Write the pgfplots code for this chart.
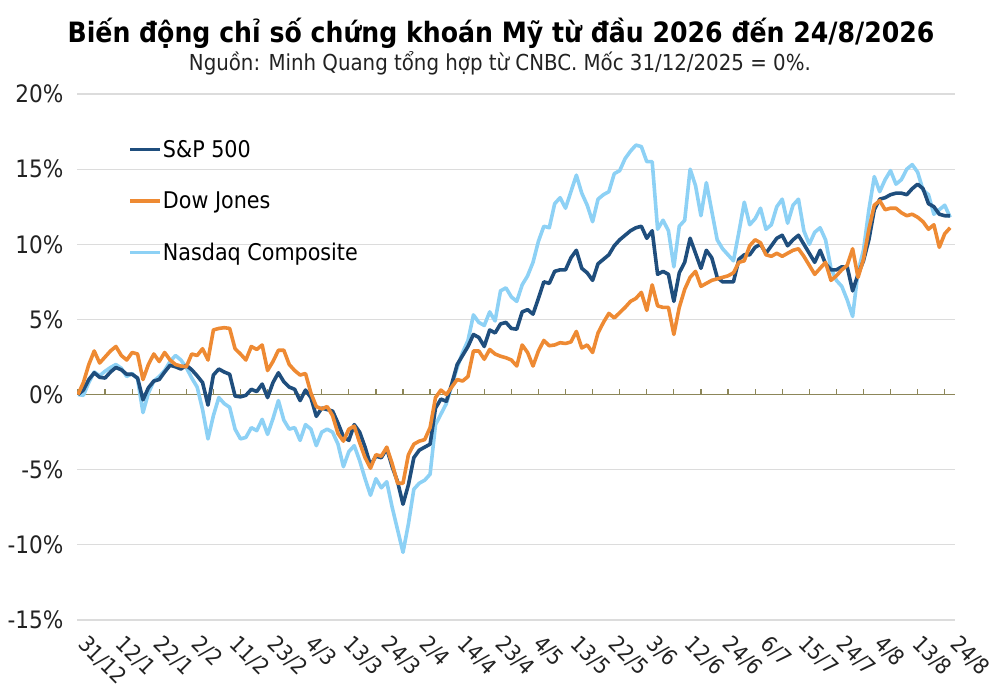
\documentclass[border=0pt]{standalone}
\usepackage{pgfplots}
\pgfplotsset{compat=1.18}
\usepackage{pgfplotstable}
\usepackage{fontspec}
\setmainfont{DejaVu Sans Condensed}
\definecolor{spc}{HTML}{1F4E7D}
\definecolor{dowc}{HTML}{EE8A33}
\definecolor{nasc}{HTML}{8DD1F5}
\definecolor{zeroc}{HTML}{8C8659}
\definecolor{gridc}{HTML}{DCDCDC}
\definecolor{txt}{HTML}{222222}
\pgfplotstableread{
i sp dow nas
0 0 0 0
1 0.3 0.8 -0.05
2 1.0 2.0 0.8
3 1.45 2.9 1.5
4 1.15 2.1 1.25
5 1.1 2.5 1.55
6 1.5 2.9 1.8
7 1.8 3.2 2.0
8 1.65 2.6 1.75
9 1.35 2.3 1.2
10 1.35 2.8 1.4
11 1.1 2.7 1.05
12 -0.35 1.0 -1.2
13 0.45 2.0 0.1
14 0.9 2.7 0.9
15 1.0 2.2 1.2
16 1.5 2.8 1.6
17 1.95 2.3 2.2
18 1.85 2.0 2.6
19 1.7 1.9 2.3
20 1.95 1.85 1.8
21 1.65 2.7 1.1
22 1.25 2.6 0.5
23 0.8 3.05 -1.0
24 -0.7 2.3 -2.95
25 1.3 4.3 -1.4
26 1.7 4.4 -0.2
27 1.5 4.45 -0.6
28 1.35 4.4 -0.85
29 -0.1 3.05 -2.3
30 -0.15 2.7 -2.95
31 -0.05 2.3 -2.85
32 0.35 3.2 -2.2
33 0.2 3.0 -2.4
34 0.7 3.3 -1.65
35 -0.2 1.6 -2.65
36 0.8 2.2 -1.6
37 1.45 2.95 -0.4
38 0.85 2.95 -1.7
39 0.5 2.0 -2.3
40 0.35 1.6 -2.2
41 -0.4 1.3 -3.05
42 0.3 1.4 -2.0
43 -0.2 0.1 -2.3
44 -1.45 -0.8 -3.4
45 -0.9 -0.95 -2.5
46 -1.0 -0.8 -2.3
47 -1.1 -1.4 -2.5
48 -1.9 -2.6 -3.3
49 -2.8 -3.1 -4.8
50 -3.05 -2.3 -3.8
51 -2.0 -2.1 -3.4
52 -2.5 -3.2 -4.4
53 -3.5 -4.2 -5.6
54 -4.7 -4.9 -6.7
55 -4.1 -4.0 -5.6
56 -4.2 -4.1 -6.2
57 -3.6 -3.5 -5.8
58 -4.8 -4.6 -7.5
59 -5.8 -5.9 -9.0
60 -7.3 -5.9 -10.5
61 -6.0 -4.0 -8.6
62 -4.2 -3.3 -6.3
63 -3.7 -3.1 -5.9
64 -3.5 -3.0 -5.7
65 -3.3 -2.2 -5.3
66 -0.9 -0.2 -2.0
67 -0.3 0.3 -1.3
68 -0.45 0.0 -0.6
69 0.7 0.5 0.6
70 2.0 1.0 1.8
71 2.6 0.9 2.8
72 3.2 1.2 3.6
73 4.0 2.9 5.3
74 3.8 2.9 4.8
75 3.2 2.35 4.6
76 4.3 3.0 5.5
77 4.1 2.7 4.9
78 4.7 2.55 6.9
79 4.8 2.45 7.1
80 4.4 2.3 6.5
81 4.35 1.9 6.2
82 5.5 3.3 7.3
83 5.65 2.8 7.9
84 5.35 1.9 8.8
85 6.4 2.9 10.2
86 7.5 3.6 11.2
87 7.4 3.25 11.1
88 8.2 3.3 12.7
89 8.3 3.45 13.1
90 8.3 3.4 12.4
91 9.1 3.5 13.5
92 9.6 4.2 14.6
93 8.4 3.1 13.4
94 8.1 3.3 12.6
95 7.6 2.8 11.5
96 8.7 4.1 13.0
97 9.0 4.8 13.3
98 9.3 5.4 13.5
99 9.9 5.1 14.7
100 10.3 5.45 14.9
101 10.6 5.8 15.7
102 10.9 6.2 16.2
103 11.1 6.4 16.6
104 11.2 6.8 16.5
105 10.4 5.6 15.5
106 10.9 7.3 15.5
107 8.0 5.9 11.0
108 8.2 5.8 11.6
109 8.0 5.8 10.9
110 6.2 4.0 8.5
111 8.1 5.8 11.2
112 8.8 7.0 11.6
113 10.4 7.8 15.0
114 9.4 8.2 13.9
115 8.4 7.2 11.9
116 9.6 7.4 14.1
117 9.1 7.6 12.2
118 7.8 7.7 10.3
119 7.5 7.8 9.7
120 7.5 7.9 9.3
121 7.5 8.1 8.9
122 9.0 8.8 10.8
123 9.3 8.9 12.8
124 9.3 9.9 11.3
125 9.8 10.3 11.7
126 10.0 10.1 12.4
127 9.4 9.3 11.0
128 9.9 9.2 11.3
129 10.4 9.4 12.5
130 10.6 9.2 13.0
131 9.9 9.4 11.4
132 10.3 9.6 12.6
133 10.6 9.7 13.0
134 10.0 9.2 10.9
135 9.4 8.6 10.0
136 8.8 8.0 10.8
137 9.6 8.4 11.1
138 8.7 8.8 10.3
139 8.3 7.6 8.4
140 8.3 7.9 7.6
141 8.5 8.3 7.2
142 8.5 8.6 6.3
143 6.9 9.7 5.2
144 8.0 7.8 8.2
145 8.9 9.0 9.6
146 10.3 11.0 12.3
147 12.3 12.6 14.5
148 13.0 12.9 13.5
149 13.1 12.3 14.3
150 13.3 12.4 14.9
151 13.4 12.4 14.0
152 13.4 12.1 14.3
153 13.3 11.9 15.0
154 13.7 12.0 15.3
155 14.0 11.8 14.8
156 13.7 11.5 13.6
157 12.7 11.0 13.3
158 12.5 11.3 12.0
159 12.0 9.8 12.3
160 11.9 10.7 12.6
161 11.9 11.1 11.8
}\data
\begin{document}
\begin{tikzpicture}
\path[use as bounding box] (0,0) rectangle (1000pt,700pt);
\node[font=\fontsize{28}{32}\selectfont\bfseries, text=black] at (501pt,667pt) {Biến động chỉ số chứng khoán Mỹ từ đầu 2026 đến 24/8/2026};
\node[font=\fontsize{22}{25}\selectfont, text=txt] at (500pt,637pt) {Nguồn: Minh Quang tổng hợp từ CNBC. Mốc 31/12/2025 = 0\%.};
\begin{axis}[
  at={(77pt,80pt)}, anchor=south west,
  width=878pt, height=526pt, scale only axis,
  xmin=-0.18, xmax=161.9, ymin=-15, ymax=20,
  axis line style={draw=none},
  tick style={draw=none},
  ytick={-15,-10,-5,0,5,10,15,20},
  yticklabels={-15\%,-10\%,-5\%,0\%,5\%,10\%,15\%,20\%},
  yticklabel style={font=\fontsize{24}{26}\selectfont, text=txt, anchor=east, xshift=-10pt},
  xtick={0,7,...,161},
  xticklabels={31/12,12/1,22/1,2/2,11/2,23/2,4/3,13/3,24/3,2/4,14/4,23/4,4/5,13/5,22/5,3/6,12/6,24/6,6/7,15/7,24/7,4/8,13/8,24/8},
  xticklabel style={font=\fontsize{22}{24}\selectfont, text=txt, rotate=-45, anchor=north west, inner sep=0pt, xshift=17pt, yshift=-2pt},
  ymajorgrids, grid style={gridc, line width=1.2pt},
  legend style={draw=none, fill=none, at={(0.055,0.92)}, anchor=north west,
    font=\fontsize{23}{26}\selectfont, row sep=29pt, cells={anchor=west},
    nodes={inner xsep=1pt}},
  legend cell align=left,
  legend image code/.code={\draw[#1, line width=3.5pt] (0pt,0pt) -- (30pt,0pt);},
]
\addlegendimage{spc}
\addlegendentry{S\&P 500}
\addlegendimage{dowc}
\addlegendentry{Dow Jones}
\addlegendimage{nasc}
\addlegendentry{Nasdaq Composite}
\addplot[zeroc, line width=1.6pt, forget plot] coordinates {(-0.18,0) (161.9,0)};
\addplot[ycomb, zeroc, line width=1.2pt, mark=none, forget plot] coordinates {(0,0.4) (5,0.4) (10,0.4) (15,0.4) (20,0.4) (25,0.4) (30,0.4) (35,0.4) (40,0.4) (45,0.4) (50,0.4) (55,0.4) (60,0.4) (65,0.4) (70,0.4) (75,0.4) (80,0.4) (85,0.4) (90,0.4) (95,0.4) (100,0.4) (105,0.4) (110,0.4) (115,0.4) (120,0.4) (125,0.4) (130,0.4) (135,0.4) (140,0.4) (145,0.4) (150,0.4) (155,0.4) (160,0.4)};
\addplot[nasc, line width=3.6pt, line join=round, forget plot] table[x=i, y=nas] {\data};
\addplot[spc, line width=3.6pt, line join=round, forget plot] table[x=i, y=sp] {\data};
\addplot[dowc, line width=3.6pt, line join=round, forget plot] table[x=i, y=dow] {\data};
\end{axis}
\end{tikzpicture}
\end{document}
